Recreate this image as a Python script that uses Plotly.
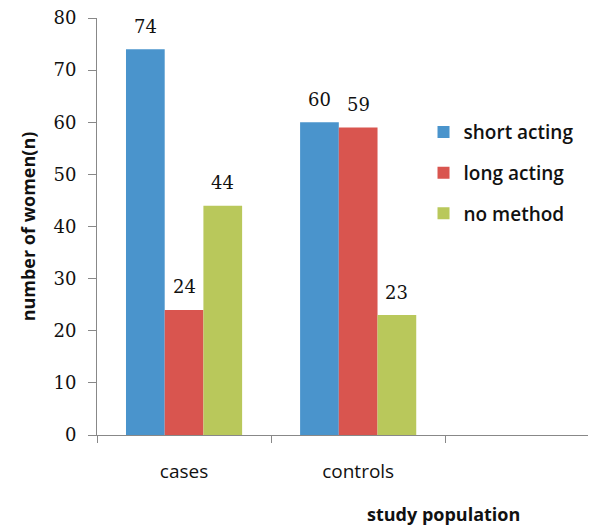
import plotly.graph_objects as go

# Study groups (third slot left empty on the category axis)
groups = ["cases", "controls", " "]
series_names = ["short acting", "long acting", "no method"]
short_acting = [74, 60]
long_acting = [24, 59]
no_method = [44, 23]
y_ticks = [0, 10, 20, 30, 40, 50, 60, 70, 80]

colors = ["#4a94cc", "#d9554f", "#b9c85b"]
values = [short_acting, long_acting, no_method]

num_font = "DejaVu Serif, serif"
txt_font = "Open Sans"

fig = go.Figure()
for k, (name, vals, col) in enumerate(zip(series_names, values, colors)):
    fig.add_trace(go.Bar(
        x=groups[:len(vals)], y=vals, name=name,
        marker=dict(color=col, line=dict(width=0)),
        legendgroup=name,
    ))

# value labels above each bar
bargap = 0.333
bw = (1 - bargap) / len(series_names)
for k, vals in enumerate(values):
    for i, v in enumerate(vals):
        fig.add_annotation(
            x=i + (k - 1) * bw, y=v, text=str(v), showarrow=False,
            yanchor="middle", yshift=23,
            font=dict(family=num_font, size=18, color="#111"),
        )

fig.add_annotation(
    x=0.705, y=-0.19, xref="paper", yref="paper", text="<b>study population</b>",
    showarrow=False, font=dict(family=txt_font, size=18, color="#111"),
    xanchor="center", yanchor="middle",
)

fig.update_layout(
    width=592, height=528,
    margin=dict(l=97, r=4, t=18, b=93),
    paper_bgcolor="white", plot_bgcolor="white",
    barmode="group", bargap=bargap, bargroupgap=0,
    showlegend=True,
    legend=dict(
        x=0.665, y=0.772, xanchor="left", yanchor="top",
        font=dict(family=txt_font, size=19, color="#111", weight=600),
        traceorder="grouped", tracegroupgap=13,
        itemwidth=30, bgcolor="rgba(0,0,0,0)",
    ),
    xaxis=dict(
        type="category", categoryarray=groups, range=[-0.5, 2.32],
        tickson="boundaries", ticks="outside", ticklen=7, tickcolor="#888",
        showline=True, linecolor="#888", linewidth=1, showgrid=False,
        tickfont=dict(family=txt_font, size=19, color="#111"),
        ticklabelstandoff=19,
    ),
    yaxis=dict(
        range=[0, 80], tickvals=y_ticks, ticks="outside", ticklen=8,
        tickcolor="#888", showline=True, linecolor="#888", linewidth=1,
        showgrid=False, zeroline=False,
        tickfont=dict(family=num_font, size=18, color="#111"),
        ticklabelstandoff=8,
        title=dict(text="<b>number of women(n)</b>", standoff=13,
                   font=dict(family=txt_font, size=18, color="#111")),
    ),
)

fig.write_html("out.html")
